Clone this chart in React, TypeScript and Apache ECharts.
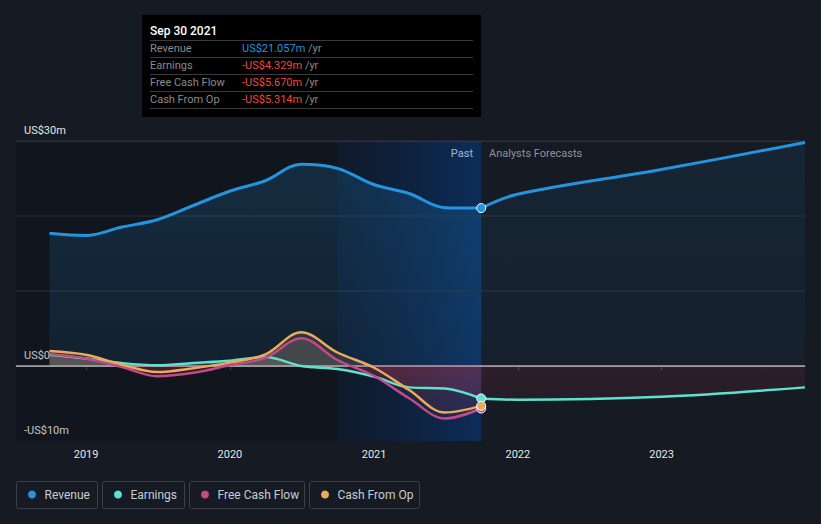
import React, { useEffect, useRef } from "react";
import * as echarts from "echarts";

// ---------- data ----------
const pastDates = [
  "2018-09-30", "2018-12-31", "2019-03-31", "2019-06-30", "2019-09-30", "2019-12-31",
  "2020-03-31", "2020-06-30", "2020-09-30", "2020-12-31", "2021-03-31", "2021-06-30", "2021-09-30",
];
const forecastDates = ["2021-09-30", "2021-12-31", "2022-12-31", "2023-12-31"];

const revenuePast = [17.7, 17.4, 18.5, 19.5, 21.4, 23.3, 24.7, 26.9, 26.35, 24.2, 23.0, 21.1, 21.057];
const revenueForecast = [21.057, 22.9, 26.2, 29.8];
const earningsPast = [1.5, 1.0, 0.4, 0.1, 0.4, 0.7, 1.2, 0.0, -0.4, -1.4, -2.85, -3.0, -4.329];
const earningsForecast = [-4.329, -4.5, -4.1, -2.85];
const fcfPast = [1.6, 1.0, -0.1, -1.35, -0.9, 0.1, 1.1, 3.7, 0.8, -1.3, -4.3, -7.0, -5.67];
const cfoPast = [2.0, 1.5, 0.2, -0.8, -0.3, 0.45, 1.55, 4.5, 1.8, -0.2, -3.2, -6.2, -5.314];

const yearTicks = ["2019-01-01", "2020-01-01", "2021-01-01", "2022-01-01", "2023-01-01"];
const yLabels: Record<string, string> = { "30": "US$30m", "0": "US$0", "-10": "-US$10m" };
const gridValues = [10, 20];
const topValue = 30;
const zeroValue = 0;
const axisMinDate = "2018-07-07";
const axisMaxDate = "2023-12-31";
const bandStart = "2020-09-30";
const bandEnd = "2021-09-30";

const tooltipTitle = "Sep 30 2021";
const tooltipRows = [
  { label: "Revenue", value: "US$21.057m", color: "#2394df" },
  { label: "Earnings", value: "-US$4.329m", color: "#f0463f" },
  { label: "Free Cash Flow", value: "-US$5.670m", color: "#f0463f" },
  { label: "Cash From Op", value: "-US$5.314m", color: "#f0463f" },
];

const COLORS = {
  revenue: "#2394df",
  earnings: "#5ee2cf",
  fcf: "#c4488a",
  cfo: "#e9ab5a",
};
const legendItems = [
  { name: "Revenue", color: COLORS.revenue, width: 81 },
  { name: "Earnings", color: COLORS.earnings, width: 82 },
  { name: "Free Cash Flow", color: COLORS.fcf, width: 115 },
  { name: "Cash From Op", color: COLORS.cfo, width: 110 },
];

// ---------- helpers ----------
const ts = (s: string) => {
  const [y, m, d] = s.split("-").map(Number);
  return new Date(y, m - 1, d).getTime();
};
const pts = (dates: string[], vals: number[]) => dates.map((d, i) => [ts(d), vals[i]]);
const withEnd = (data: any[], color: string) => {
  const out: any[] = data.slice();
  const last = out[out.length - 1];
  out[out.length - 1] = {
    value: last,
    symbol: "circle",
    symbolSize: 9,
    itemStyle: { color, borderColor: "#ffffff", borderWidth: 1 },
  };
  return out;
};
const FONT = "Roboto, 'Noto Sans', sans-serif";

export default function App() {
  const ref = useRef<HTMLDivElement>(null);

  useEffect(() => {
    if (!ref.current) return;
    const chart = echarts.init(ref.current, undefined, { renderer: "svg" });

    const GRID_TOP = 141;
    const GRID_BOTTOM = 83;
    const H = 524;
    const zeroFrac = 0.75;
    const smallArea = () =>
      new echarts.graphic.LinearGradient(
        0, GRID_TOP, 0, H - GRID_BOTTOM,
        [
          { offset: 0, color: "rgba(205,175,150,0.2)" },
          { offset: zeroFrac, color: "rgba(205,175,150,0.2)" },
          { offset: zeroFrac, color: "rgba(230,60,85,0.17)" },
          { offset: 1, color: "rgba(230,60,85,0.04)" },
        ],
        true
      );
    const revArea = (a0: number, a1: number) =>
      new echarts.graphic.LinearGradient(0, 0, 0, 1, [
        { offset: 0, color: `rgba(35,148,223,${a0})` },
        { offset: 1, color: `rgba(35,148,223,${a1})` },
      ]);

    const xMin = ts(axisMinDate);
    const xMax = ts(axisMaxDate);
    const hLine = (v: number, color: string, z = 1) => ({
      type: "line",
      data: [[xMin, v], [xMax, v]],
      symbol: "none",
      silent: true,
      z,
      lineStyle: { color, width: 1 },
    });

    const lineBase = {
      type: "line",
      smooth: 0.35,
      showSymbol: true,
      symbol: "none",
      silent: true,
    };

    const yearVals = yearTicks.map(ts);

    const option: any = {
      animation: false,
      backgroundColor: "#151a23",
      textStyle: { fontFamily: FONT },
      grid: { left: 16, right: 16, top: GRID_TOP, bottom: GRID_BOTTOM, containLabel: false },
      xAxis: {
        type: "value",
        min: xMin,
        max: xMax,
        axisLine: { show: true, lineStyle: { color: "#4b505a", width: 1 } },
        axisTick: {
          show: true,
          customValues: yearVals,
          length: 4,
          lineStyle: { color: "#4b505a" },
        },
        axisLabel: {
          customValues: yearVals,
          formatter: (v: number) => String(new Date(v).getFullYear()),
          color: "#e6e6e6",
          fontSize: 11,
          margin: 8,
          fontFamily: FONT,
        },
        splitLine: { show: false },
      },
      yAxis: {
        type: "value",
        min: -10,
        max: 30,
        interval: 10,
        axisLine: { show: false },
        axisTick: { show: false },
        splitLine: { show: false },
        axisLabel: {
          inside: true,
          margin: 8,
          formatter: (v: number) => yLabels[String(v)] ?? "",
          color: "#e6e6e6",
          fontSize: 11,
          fontFamily: FONT,
          verticalAlign: "bottom",
          padding: [0, 0, 5, 0],
        },
      },
      series: [
        {
          ...hLine(gridValues[0], "#2a303a"),
          markArea: {
            silent: true,
            data: [
              [
                { xAxis: xMin, itemStyle: { color: "rgba(0,0,0,0.16)" } },
                { xAxis: ts(bandStart) },
              ],
              [
                {
                  xAxis: ts(bandStart),
                  itemStyle: {
                    color: new echarts.graphic.LinearGradient(1, 0, 0, 0, [
                      { offset: 0, color: "rgba(0,72,165,0.42)" },
                      { offset: 1, color: "rgba(0,25,60,0.28)" },
                    ]),
                  },
                },
                { xAxis: ts(bandEnd) },
              ],
            ],
          },
        },
        hLine(gridValues[1], "#2a303a"),
        hLine(topValue, "#444a54"),
        hLine(zeroValue, "#f2f2f2"),
        {
          ...lineBase,
          name: "Revenue",
          data: withEnd(pts(pastDates, revenuePast), COLORS.revenue),
          lineStyle: { color: COLORS.revenue, width: 3 },
          itemStyle: { color: COLORS.revenue },
          areaStyle: { color: revArea(0.26, 0.13) },
        },
        {
          ...lineBase,
          name: "Revenue",
          data: pts(forecastDates, revenueForecast),
          lineStyle: { color: COLORS.revenue, width: 3 },
          itemStyle: { color: COLORS.revenue },
          areaStyle: { color: revArea(0.13, 0.07) },
        },
        {
          ...lineBase,
          name: "Earnings",
          data: withEnd(pts(pastDates, earningsPast), COLORS.earnings),
          lineStyle: { color: COLORS.earnings, width: 2.5 },
          itemStyle: { color: COLORS.earnings },
          areaStyle: { color: smallArea() },
        },
        {
          ...lineBase,
          name: "Earnings",
          data: pts(forecastDates, earningsForecast),
          lineStyle: { color: COLORS.earnings, width: 2.5 },
          itemStyle: { color: COLORS.earnings },
          areaStyle: { color: smallArea() },
        },
        {
          ...lineBase,
          name: "Free Cash Flow",
          data: withEnd(pts(pastDates, fcfPast), COLORS.fcf),
          lineStyle: { color: COLORS.fcf, width: 2.5 },
          itemStyle: { color: COLORS.fcf },
          areaStyle: { color: smallArea() },
        },
        {
          ...lineBase,
          name: "Cash From Op",
          data: withEnd(pts(pastDates, cfoPast), COLORS.cfo),
          lineStyle: { color: COLORS.cfo, width: 2.5 },
          itemStyle: { color: COLORS.cfo },
          areaStyle: { color: smallArea() },
        },
      ],
      graphic: [] as any[],
    };

    // "Past" / "Analysts Forecasts" labels
    option.graphic.push(
      {
        type: "text",
        x: 473,
        y: 153,
        silent: true,
        style: {
          text: "Past",
          fill: "#ffffff",
          font: `11px ${FONT}`,
          align: "right",
          verticalAlign: "middle",
          textAlign: "right",
          textVerticalAlign: "middle",
        },
      },
      {
        type: "text",
        x: 489,
        y: 153,
        silent: true,
        style: {
          text: "Analysts Forecasts",
          fill: "#8d939c",
          font: `11px ${FONT}`,
          align: "left",
          verticalAlign: "middle",
          textAlign: "left",
          textVerticalAlign: "middle",
        },
      }
    );

    // static tooltip box
    const tipChildren: any[] = [
      { type: "rect", shape: { x: 0, y: 0, width: 339, height: 102 }, style: { fill: "#000000" } },
      {
        type: "text",
        x: 8,
        y: 16,
        style: {
          text: tooltipTitle,
          fill: "#ffffff",
          font: `500 12px ${FONT}`,
          verticalAlign: "middle",
          textVerticalAlign: "middle",
        },
      },
    ];
    const rowH = 17;
    for (let i = 0; i <= tooltipRows.length; i++) {
      tipChildren.push({
        type: "line",
        shape: { x1: 8, y1: 25.5 + i * rowH, x2: 331, y2: 25.5 + i * rowH },
        style: { stroke: "#3a3a3a", lineWidth: 1 },
      });
    }
    tooltipRows.forEach((r, i) => {
      const cy = 33.5 + i * rowH;
      tipChildren.push(
        {
          type: "text",
          x: 8,
          y: cy,
          style: {
            text: r.label,
            fill: "#8a8a8a",
            font: `11px ${FONT}`,
            verticalAlign: "middle",
            textVerticalAlign: "middle",
          },
        },
        {
          type: "text",
          x: 100,
          y: cy,
          style: {
            text: `{v|${r.value}} {u|/yr}`,
            font: `11px ${FONT}`,
            verticalAlign: "middle",
            textVerticalAlign: "middle",
            rich: {
              v: { fill: r.color, color: r.color, font: `11px ${FONT}` },
              u: { fill: "#8a8a8a", color: "#8a8a8a", font: `11px ${FONT}` },
            },
          },
        }
      );
    });
    option.graphic.push({ type: "group", x: 142, y: 15, silent: true, children: tipChildren });

    // legend boxes
    let lx = 16.5;
    const legendChildren: any[] = [];
    legendItems.forEach((it) => {
      legendChildren.push(
        {
          type: "rect",
          shape: { x: lx, y: 481.5, width: it.width, height: 27, r: 2 },
          style: { fill: "none", stroke: "#3b404a", lineWidth: 1 },
        },
        { type: "circle", shape: { cx: lx + 15.5, cy: 494.5, r: 4 }, style: { fill: it.color } },
        {
          type: "text",
          x: lx + 28,
          y: 494.5,
          style: {
            text: it.name,
            fill: "#c8ccd2",
            font: `12px ${FONT}`,
            verticalAlign: "middle",
            textVerticalAlign: "middle",
          },
        }
      );
      lx += it.width + 5;
    });
    option.graphic.push({ type: "group", silent: true, children: legendChildren });

    chart.setOption(option);
    return () => chart.dispose();
  }, []);

  return (
    <div
      ref={ref}
      style={{ position: "fixed", left: 0, top: 0, width: 821, height: 524 }}
    />
  );
}
